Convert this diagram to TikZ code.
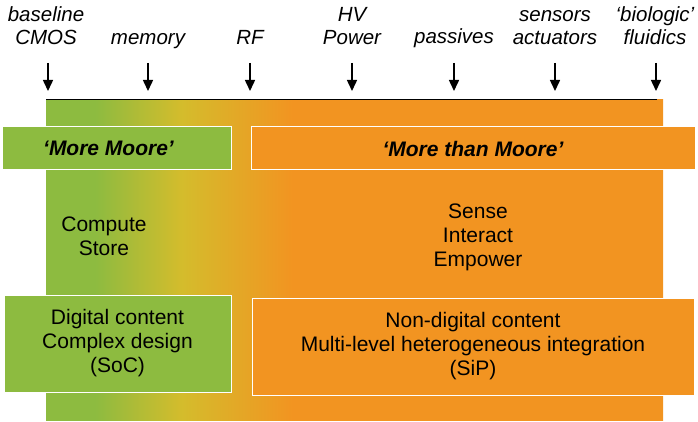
\documentclass[tikz,border=0pt]{standalone}
\usepackage{fontspec}
\setmainfont{Liberation Sans}
\usetikzlibrary{arrows.meta}
\definecolor{mooreGreen}{HTML}{8DBB40}
\definecolor{mooreYellow}{HTML}{D4BC2C}
\definecolor{mooreOrange}{HTML}{F29421}
\pgfdeclarehorizontalshading{mooreShade}{100bp}{color(0bp)=(mooreGreen); color(29bp)=(mooreGreen); color(36bp)=(mooreYellow); color(45bp)=(mooreOrange); color(100bp)=(mooreOrange)}
\tikzset{
  topLabel/.style={font=\fontsize{20.5}{23}\selectfont\itshape, align=center, anchor=base, inner sep=0pt},
  bodyText/.style={font=\fontsize{21}{24}\selectfont, align=center, anchor=base, inner sep=0pt},
  feed/.style={line width=1.5pt, -{Triangle[width=10pt,length=11pt]}},
  mooreBox/.style={draw=white, line width=1pt, inner sep=0pt, align=center, font=\fontsize{21}{24}\selectfont}
}

\begin{document}
\begin{tikzpicture}[x=1pt, y=-1pt]
  \useasboundingbox (0,0) rectangle (698,422);
  % background band
  \shade[shading=mooreShade] (46,100) rectangle (663,420);
  \coordinate (lineStart) at (46,100);
  \coordinate (lineEnd) at (657,100);
  \draw[line width=1pt] (lineStart) -- (lineEnd);
  % labels on top (base = last line)
  \node[topLabel] (cmos) at (46,45) {baseline\\CMOS};
  \node[topLabel] (memory) at (148,45) {memory};
  \node[topLabel] (rf) at (250,45) {RF};
  \node[topLabel] (hv) at (352,45) {HV\\Power};
  \node[topLabel] (passives) at (454,44) {passives};
  \node[topLabel] (sensors) at (555,45) {sensors\\actuators};
  \node[topLabel] (bio) at (655,45) {`biologic'\\fluidics};
  % arrows
  \coordinate (cmosTop) at (48,63);   \coordinate (cmosTip) at (48,91);
  \coordinate (memTop) at (148,63);   \coordinate (memTip) at (148,91);
  \coordinate (rfTop) at (250,63);    \coordinate (rfTip) at (250,91);
  \coordinate (hvTop) at (352,63);    \coordinate (hvTip) at (352,91);
  \coordinate (pasTop) at (454,63);   \coordinate (pasTip) at (454,91);
  \coordinate (senTop) at (555,63);   \coordinate (senTip) at (555,91);
  \coordinate (bioTop) at (656,63);   \coordinate (bioTip) at (656,91);
  \draw[feed] (cmosTop) -- (cmosTip);
  \draw[feed] (memTop) -- (memTip);
  \draw[feed] (rfTop) -- (rfTip);
  \draw[feed] (hvTop) -- (hvTip);
  \draw[feed] (pasTop) -- (pasTip);
  \draw[feed] (senTop) -- (senTip);
  \draw[feed] (bioTop) -- (bioTip);
  % heading boxes
  \node[mooreBox, fill=mooreGreen, minimum width=229pt, minimum height=43pt] (moreMoore) at (116.5,148.5) {\bfseries\itshape `More Moore'\hspace*{16pt}};
  \node[mooreBox, fill=mooreOrange, minimum width=444pt, minimum height=43pt] (moreThan) at (473,148.5) {\bfseries\itshape `More than Moore'};
  % middle texts
  \node[bodyText] (compute) at (104,255) {Compute\\Store};
  \node[bodyText] (sense) at (478,266) {Sense\\Interact\\Empower};
  % bottom boxes
  \node[mooreBox, fill=mooreGreen, minimum width=227pt, minimum height=97pt] (digital) at (117.5,343.5) {Digital content\\Complex design\\(SoC)};
  \node[mooreBox, fill=mooreOrange, minimum width=442pt, minimum height=97pt] (nonDigital) at (473,346.5) {Non-digital content\\Multi-level heterogeneous integration\\(SiP)};
\end{tikzpicture}
\end{document}
